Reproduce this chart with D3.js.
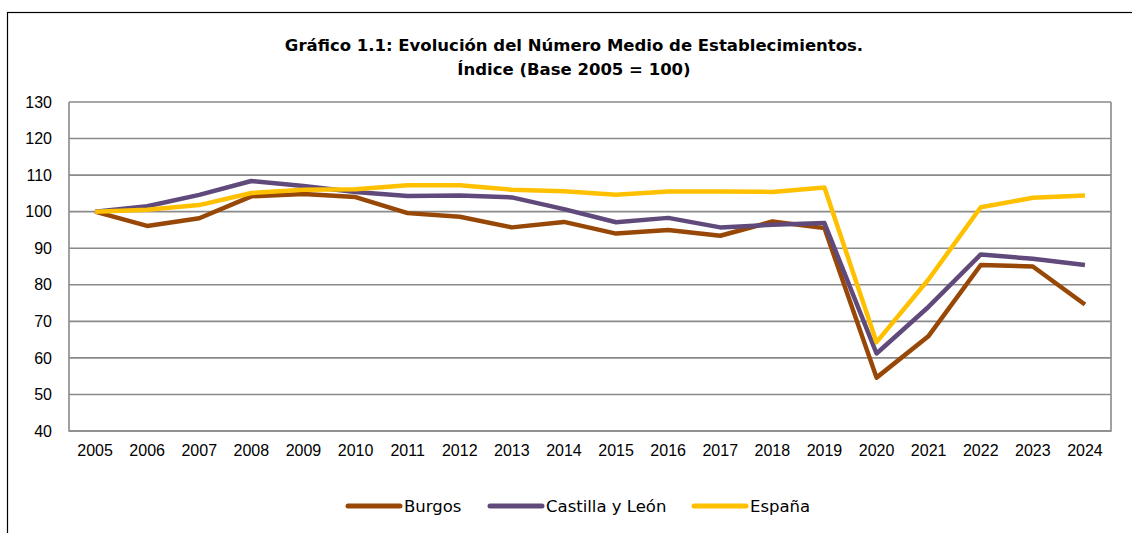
<!DOCTYPE html>
<html>
<head>
<meta charset="utf-8">
<script src="https://cdn.jsdelivr.net/npm/d3@7"></script>
<style>
  body { margin: 0; background: #fff; }
  svg { display: block; }
</style>
</head>
<body>
<div id="chart"></div>
<script>
// Data
const years = [2005, 2006, 2007, 2008, 2009, 2010, 2011, 2012, 2013, 2014,
               2015, 2016, 2017, 2018, 2019, 2020, 2021, 2022, 2023, 2024];
const burgos = [100, 96.1, 98.2, 104.2, 104.8, 104, 99.6, 98.6, 95.7, 97.2,
                94.0, 95.0, 93.4, 97.3, 95.5, 54.6, 66.0, 85.4, 85.0, 74.6];
const castilla = [100, 101.5, 104.6, 108.4, 107.0, 105.4, 104.3, 104.4, 103.9, 100.7,
                  97.1, 98.3, 95.7, 96.4, 96.9, 61.2, 74.0, 88.3, 87.1, 85.4];
const espana = [100, 100.5, 101.8, 105.1, 106.0, 106.1, 107.2, 107.2, 106.0, 105.6,
                104.6, 105.5, 105.5, 105.4, 106.6, 64.3, 81.5, 101.2, 103.8, 104.4];
const yTicks = [40, 50, 60, 70, 80, 90, 100, 110, 120, 130];

const series = [
  { name: "Burgos", values: burgos, color: "#974806" },
  { name: "Castilla y León", values: castilla, color: "#604A7B" },
  { name: "España", values: espana, color: "#FFC000" }
];

const width = 1132, height = 533;
const margin = { top: 102, right: 21, bottom: 102, left: 69 };
const plotW = width - margin.left - margin.right,
      plotH = height - margin.top - margin.bottom;

const svg = d3.select("#chart")
  .append("svg")
  .attr("width", width)
  .attr("height", height);

// outer chart border
svg.append("rect")
  .attr("x", 7.5).attr("y", 12.5)
  .attr("width", 1200).attr("height", 600)
  .attr("fill", "none")
  .attr("stroke", "#000")
  .attr("stroke-width", 1.2);

// title
const title = svg.append("text")
  .attr("text-anchor", "middle")
  .style("font-family", "'DejaVu Sans', Verdana, sans-serif")
  .style("font-weight", "bold")
  .style("font-size", "16.5px");
title.append("tspan").attr("x", 574).attr("y", 51)
  .text("Gráfico 1.1: Evolución del Número Medio de Establecimientos.");
title.append("tspan").attr("x", 574).attr("y", 75)
  .text("Índice (Base 2005 = 100)");

const g = svg.append("g")
  .attr("transform", `translate(${margin.left},${margin.top})`);

const x = d3.scaleBand()
  .domain(years)
  .range([0, plotW]);

const y = d3.scaleLinear()
  .domain([40, 130])
  .range([plotH, 0]);

// gridlines
g.selectAll(".grid")
  .data(yTicks)
  .enter().append("line")
  .attr("x1", 0).attr("x2", plotW)
  .attr("y1", d => y(d)).attr("y2", d => y(d))
  .attr("stroke", "#8a8a8a")
  .attr("stroke-width", 1.6);

// plot border (left, bottom, right)
g.append("path")
  .attr("d", `M0,0V${plotH}H${plotW}V0`)
  .attr("fill", "none")
  .attr("stroke", "#8a8a8a")
  .attr("stroke-width", 1.6);

// y axis labels
const yAxis = g.append("g")
  .call(d3.axisLeft(y).tickValues(yTicks).tickSize(0).tickPadding(17));
yAxis.select(".domain").remove();
yAxis.selectAll("text")
  .style("font-family", "'Liberation Sans', Arial, sans-serif")
  .style("font-size", "16px")
  .attr("fill", "#000");

// x axis labels
const xAxis = g.append("g")
  .attr("transform", `translate(0,${plotH})`)
  .call(d3.axisBottom(x).tickSize(0).tickPadding(14));
xAxis.select(".domain").remove();
xAxis.selectAll("text")
  .style("font-family", "'Liberation Sans', Arial, sans-serif")
  .style("font-size", "16px")
  .attr("fill", "#000");

// lines
const line = d3.line()
  .x((d, i) => x(years[i]) + x.bandwidth() / 2)
  .y(d => y(d));

g.selectAll(".series")
  .data(series)
  .enter().append("path")
  .attr("d", d => line(d.values))
  .attr("fill", "none")
  .attr("stroke", d => d.color)
  .attr("stroke-width", 4.5)
  .attr("stroke-linejoin", "round");

// legend
const legendX = [346, 488, 692];
const legend = svg.selectAll(".legend")
  .data(series)
  .enter().append("g")
  .attr("transform", (d, i) => `translate(${legendX[i]},506)`);
legend.append("line")
  .attr("x1", 2).attr("x2", 54)
  .attr("stroke", d => d.color)
  .attr("stroke-width", 5)
  .attr("stroke-linecap", "round");
legend.append("text")
  .attr("x", 58)
  .attr("dy", "0.35em")
  .style("font-family", "'DejaVu Sans', Verdana, sans-serif")
  .style("font-size", "16.5px")
  .text(d => d.name);
</script>
</body>
</html>
